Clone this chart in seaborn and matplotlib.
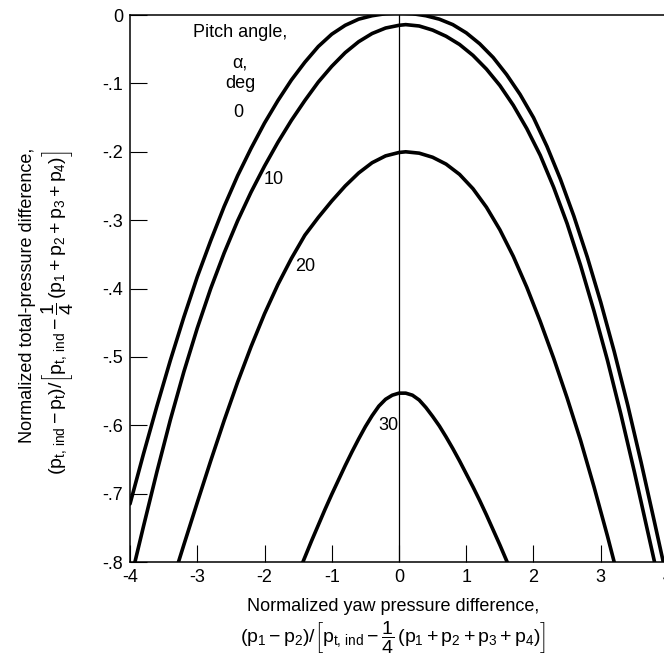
import pandas as pd
import matplotlib
matplotlib.use('Agg')
import matplotlib.pyplot as plt
import seaborn as sns

# values (x = yaw pressure diff, y = total-pressure diff)
x_a0 = [-4.00, -3.80, -3.60, -3.40, -3.20, -3.00, -2.80, -2.60, -2.40, -2.20,
        -2.00, -1.80, -1.60, -1.40, -1.20, -1.00, -0.80, -0.60, -0.40, -0.20,
        0.00, 0.20, 0.40, 0.60, 0.80, 1.00, 1.20, 1.40, 1.60, 1.80,
        2.00, 2.20, 2.40, 2.60, 2.80, 3.00, 3.20, 3.40, 3.60, 3.80, 3.93]
y_a0 = [-0.715, -0.642, -0.572, -0.505, -0.442, -0.383, -0.330, -0.280, -0.235, -0.195,
        -0.158, -0.125, -0.095, -0.069, -0.046, -0.028, -0.015, -0.006, -0.001, 0.002,
        0.003, 0.002, -0.001, -0.006, -0.014, -0.026, -0.042, -0.062, -0.087, -0.116,
        -0.150, -0.192, -0.240, -0.294, -0.354, -0.420, -0.492, -0.570, -0.654, -0.742, -0.800]

x_a10 = [-4.00, -3.80, -3.60, -3.40, -3.20, -3.00, -2.80, -2.60, -2.40, -2.20,
         -2.00, -1.80, -1.60, -1.40, -1.20, -1.00, -0.80, -0.60, -0.40, -0.20,
         0.00, 0.10, 0.30, 0.50, 0.70, 0.90, 1.10, 1.30, 1.50, 1.70,
         1.90, 2.10, 2.30, 2.50, 2.70, 2.90, 3.10, 3.30, 3.50, 3.70, 3.80]
y_a10 = [-0.830, -0.748, -0.668, -0.592, -0.522, -0.458, -0.400, -0.348, -0.301, -0.259,
         -0.221, -0.186, -0.154, -0.125, -0.098, -0.075, -0.055, -0.039, -0.027, -0.019,
         -0.015, -0.014, -0.016, -0.022, -0.031, -0.043, -0.059, -0.079, -0.103, -0.132,
         -0.166, -0.205, -0.252, -0.305, -0.366, -0.433, -0.505, -0.584, -0.668, -0.756, -0.800]

x_a20 = [-3.40, -3.20, -3.00, -2.80, -2.60, -2.40, -2.20, -2.00, -1.80, -1.60,
         -1.40, -1.20, -1.00, -0.80, -0.60, -0.40, -0.20, 0.00, 0.10, 0.30,
         0.50, 0.70, 0.90, 1.10, 1.30, 1.50, 1.70, 1.90, 2.10, 2.30,
         2.50, 2.70, 2.90, 3.10, 3.20]
y_a20 = [-0.838, -0.775, -0.713, -0.652, -0.593, -0.537, -0.485, -0.437, -0.394, -0.356,
         -0.322, -0.296, -0.272, -0.250, -0.231, -0.216, -0.206, -0.201, -0.200, -0.202,
         -0.208, -0.218, -0.233, -0.254, -0.281, -0.314, -0.353, -0.398, -0.448, -0.502,
         -0.560, -0.622, -0.690, -0.762, -0.800]

x_a30 = [-1.50, -1.40, -1.30, -1.20, -1.10, -1.00, -0.90, -0.80, -0.70, -0.60,
         -0.50, -0.40, -0.30, -0.20, -0.10, 0.00, 0.10, 0.20, 0.30, 0.40,
         0.50, 0.60, 0.70, 0.80, 0.90, 1.00, 1.10, 1.20, 1.30, 1.40,
         1.50, 1.60, 1.70]
y_a30 = [-0.817, -0.793, -0.769, -0.746, -0.723, -0.701, -0.680, -0.659, -0.639, -0.620,
         -0.602, -0.586, -0.572, -0.562, -0.556, -0.553, -0.553, -0.556, -0.563, -0.574,
         -0.587, -0.601, -0.617, -0.634, -0.652, -0.671, -0.690, -0.710, -0.731, -0.753,
         -0.775, -0.798, -0.821]

pitch_angles = ['0', '10', '20', '30']
label_x = [-2.39, -1.87, -1.40, -0.16]
label_y = [-0.143, -0.241, -0.368, -0.600]

x_ticks = [-4, -3, -2, -1, 0, 1, 2, 3, 4]
x_ticklabels = ['-4', '-3', '-2', '-1', '0', '1', '2', '3', '4']
y_ticks = [0, -0.1, -0.2, -0.3, -0.4, -0.5, -0.6, -0.7, -0.8]
y_ticklabels = ['0', '-.1', '-.2', '-.3', '-.4', '-.5', '-.6', '-.7', '-.8']

frames = []
for a, xs, ys in zip(pitch_angles, [x_a0, x_a10, x_a20, x_a30], [y_a0, y_a10, y_a20, y_a30]):
    frames.append(pd.DataFrame({'x': xs, 'y': ys, 'alpha': a}))
data = pd.concat(frames, ignore_index=True)

sns.set_style('ticks')
plt.rcParams['font.family'] = ['Liberation Sans', 'DejaVu Sans']
plt.rcParams['mathtext.fontset'] = 'custom'
plt.rcParams['mathtext.rm'] = 'Liberation Sans'
plt.rcParams['mathtext.it'] = 'Liberation Sans'
plt.rcParams['mathtext.bf'] = 'Liberation Sans'
plt.rcParams['text.color'] = 'black'
plt.rcParams['xtick.color'] = 'black'
plt.rcParams['ytick.color'] = 'black'
plt.rcParams['axes.labelcolor'] = 'black'

fig = plt.figure(figsize=(6.64, 6.63), dpi=100)
ax = fig.add_axes([0.1958, 0.1523, 0.8102, 0.825])

sns.lineplot(data=data, x='x', y='y', hue='alpha', palette=['black'] * 4,
             estimator=None, legend=False, linewidth=2.6, ax=ax)
ax.axvline(0, color='black', lw=0.9)

ax.set_xlim(-4, 4)
ax.set_ylim(-0.8, 0)
ax.set_xticks(x_ticks)
ax.set_xticklabels(x_ticklabels)
ax.set_yticks(y_ticks)
ax.set_yticklabels(y_ticklabels)
ax.tick_params(direction='in', length=12, width=0.8, labelsize=13, color='black', pad=5)
ax.set_xlabel('')
ax.set_ylabel('')
for s in ax.spines.values():
    s.set_color('black')
    s.set_linewidth(1.1)

# curve labels
for t, lx, ly in zip(pitch_angles, label_x, label_y):
    ax.text(lx, ly, t, fontsize=13, ha='center', va='center')
ax.text(-2.36, -0.026, 'Pitch angle,', fontsize=13, ha='center', va='center')
ax.text(-2.36, -0.070, 'α,', fontsize=13, ha='center', va='center')
ax.text(-2.36, -0.100, 'deg', fontsize=13, ha='center', va='center')

# axis titles
fig.text(0.592, 0.0845, 'Normalized yaw pressure difference,', fontsize=13,
         ha='center', va='center')
fig.text(0.592, 0.038,
         r'$(p_1 - p_2)/\left[p_{t,\,\mathrm{ind}} - \dfrac{1}{4}\,(p_1 + p_2 + p_3 + p_4)\right]$',
         fontsize=14, ha='center', va='center')
fig.text(0.041, 0.555, 'Normalized total-pressure difference,', fontsize=13,
         ha='center', va='center', rotation=90)
fig.text(0.087, 0.529,
         r'$(p_{t,\,\mathrm{ind}} - p_t)/\left[p_{t,\,\mathrm{ind}} - \dfrac{1}{4}\,(p_1 + p_2 + p_3 + p_4)\right]$',
         fontsize=14, ha='center', va='center', rotation=90)

fig.savefig('out.png', dpi=100)
